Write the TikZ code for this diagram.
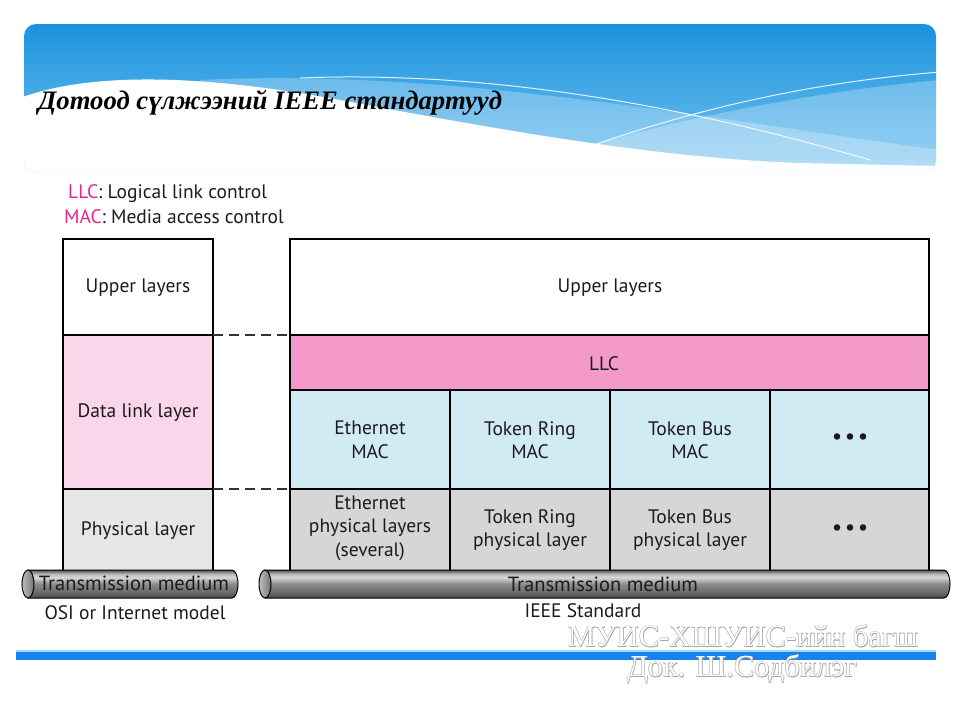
\documentclass[tikz,border=0pt]{standalone}
\usepackage{fontspec}
\setmainfont{PT Sans}
\newfontfamily\serifff{Liberation Serif}
\usetikzlibrary{calc}
\definecolor{magtext}{RGB}{228,38,140}
\definecolor{pinkL}{RGB}{249,214,234}
\definecolor{pinkD}{RGB}{244,154,202}
\definecolor{blueL}{RGB}{208,235,243}
\definecolor{grayL}{RGB}{230,230,230}
\definecolor{grayD}{RGB}{214,214,214}
\definecolor{cylA}{RGB}{70,70,70}
\definecolor{cylB}{RGB}{100,100,100}
\definecolor{cylC}{RGB}{140,140,140}
\definecolor{cylD}{RGB}{215,215,215}
\definecolor{cylE}{RGB}{185,185,185}
\definecolor{cylF}{RGB}{80,80,80}
\definecolor{banTop}{RGB}{24,146,222}
\definecolor{banBot}{RGB}{120,196,240}
\definecolor{barBlue}{RGB}{26,130,235}
\definecolor{ink}{RGB}{30,25,30}
\pgfdeclareverticalshading{cyl}{100bp}{color(0bp)=(cylA); color(25bp)=(cylA); color(33bp)=(cylB); color(50bp)=(cylC); color(62bp)=(cylD); color(68bp)=(cylE); color(75bp)=(cylF); color(100bp)=(cylF)}
\tikzset{
  cell/.style={draw=black, line width=1.2pt},
  lbl/.style={font=\fontsize{19.5}{23.5}\selectfont, text=ink, align=center, inner sep=0pt},
  tmlbl/.style={lbl, font=\fontsize{20.5}{23}\selectfont},
  dashline/.style={line width=1.3pt, dash pattern=on 10pt off 6pt, black!80},
  tube/.style={shading=cyl, draw=black, line width=1pt},
  tubeend/.style={left color=black!25, right color=black!55, draw=black, line width=1pt},
  wm/.style={font=\serifff\fontsize{30.5}{33}\selectfont, inner sep=0pt},
}
\begin{document}
\begin{tikzpicture}[x=1pt,y=-1pt]
\useasboundingbox (0,0) rectangle (960,720);
% ---------- banner ----------
\begin{scope}
  \clip[rounded corners=12pt] (24,24) rectangle (936,172);
  \shade[top color=banTop, bottom color=banBot] (20,20) rectangle (940,175);
  \fill[white, opacity=0.25] (200,80) .. controls (450,68) and (700,118) .. (940,150) -- (940,175) -- (200,175) -- cycle;
  \fill[white, opacity=0.25] (540,160) .. controls (700,110) and (850,88) .. (940,80) -- (940,175) -- (540,175) -- cycle;
  \fill[white] (20,98) .. controls (90,72) and (200,74) .. (340,100) .. controls (480,126) and (650,158) .. (800,163) -- (940,166) -- (940,175) -- (20,175) -- cycle;
  \draw[white, line width=1pt, opacity=0.85] (300,78) .. controls (500,70) and (700,110) .. (870,160);
  \draw[white, line width=1pt, opacity=0.85] (585,148) .. controls (720,100) and (840,80) .. (940,72);
\end{scope}
\node[anchor=west, inner sep=0pt, font=\serifff\bfseries\itshape\fontsize{26.7}{30}\selectfont] (title) at (38,103) {Дотоод сүлжээний IEEE стандартууд};
% ---------- legend ----------
\node[anchor=west, inner sep=0pt, text=ink, font=\fontsize{19.5}{22}\selectfont] (leg1) at (68,194) {\textcolor{magtext}{LLC}: Logical link control};
\node[anchor=west, inner sep=0pt, text=ink, font=\fontsize{19.5}{22}\selectfont] (leg2) at (64,217) {\textcolor{magtext}{MAC}: Media access control};
% ---------- left column ----------
\fill[white] (63,239) rectangle (213,335);
\fill[pinkL] (63,335) rectangle (213,489);
\fill[grayL] (63,489) rectangle (213,572);
\draw[cell] (63,572) -- (63,239) -- (213,239) -- (213,572);
\draw[cell] (63,335) -- (213,335);
\draw[cell] (63,489) -- (213,489);
\node[lbl] (lup) at (138,287.5) {Upper layers};
\node[lbl] (ldl) at (138,412.5) {Data link layer};
\node[lbl] (lph) at (138,530.5) {Physical layer};
% ---------- right block ----------
\fill[white] (290,239) rectangle (929,335);
\fill[pinkD] (290,335) rectangle (929,390);
\fill[blueL] (290,390) rectangle (929,489);
\fill[grayD] (290,489) rectangle (929,572);
\draw[cell] (290,572) -- (290,239) -- (929,239) -- (929,572);
\draw[cell] (290,335) -- (929,335);
\draw[cell] (290,390) -- (929,390);
\draw[cell] (290,489) -- (929,489);
\foreach \xx in {450,610,770} \draw[cell] (\xx,390) -- (\xx,572);
\node[lbl] (rup) at (610,287.5) {Upper layers};
\node[lbl] (llc) at (604,363.5) {LLC};
\node[lbl] (emac) at (370,440) {Ethernet\\MAC};
\node[lbl] (trmac) at (530,440) {Token Ring\\MAC};
\node[lbl] (tbmac) at (690,440) {Token Bus\\MAC};
\node[lbl, font=\fontsize{21}{22}\selectfont\bfseries] (dmac) at (850,439) {•\,•\,•};
\node[lbl] (ephy) at (370,528) {Ethernet\\physical layers\\(several)};
\node[lbl] (trphy) at (530,530) {Token Ring\\physical layer};
\node[lbl] (tbphy) at (690,530) {Token Bus\\physical layer};
\node[lbl, font=\fontsize{21}{22}\selectfont\bfseries] (dphy) at (850,530) {•\,•\,•};
% ---------- dashed connectors ----------
\coordinate (d1a) at (213,335); \coordinate (d1b) at (290,335);
\coordinate (d2a) at (213,489); \coordinate (d2b) at (290,489);
\draw[dashline] (d1a) -- (d1b);
\draw[dashline] (d2a) -- (d2b);
% ---------- transmission media ----------
\path[tube] (28,570) -- (232,570) arc[start angle=-90, end angle=90, x radius=6, y radius=14] -- (28,598) -- cycle;
\path[tubeend] (28,584) ellipse[x radius=6, y radius=14];
\node[tmlbl] (ltm) at (134,583) {Transmission medium};
\path[tube] (265,570) -- (944,570) arc[start angle=-90, end angle=90, x radius=6, y radius=14] -- (265,598) -- cycle;
\path[tubeend] (265,584) ellipse[x radius=6, y radius=14];
\node[tmlbl] (rtm) at (603,584) {Transmission medium};
\node[lbl] (osi) at (135,613) {OSI or Internet model};
\node[lbl] (ieee) at (583,610.5) {IEEE Standard};
% ---------- bottom bar ----------
\fill[cyan!40] (16,650) rectangle (936,652);
\fill[barBlue] (16,652) rectangle (936,660);
% ---------- watermark ----------
\foreach \dx/\dy in {-0.5/0,0.5/0,0/-0.5,0/0.5,0.7/0.7} {
  \node[wm, text=black!35] at ($(743,636)+(\dx,\dy)$) {МУИС-ХШУИС-ийн багш};
  \node[wm, text=black!35] at ($(742,669)+(\dx,\dy)$) {Док. Ш.Содбилэг};
}
\node[wm, text=white] (wm1) at (743,636) {МУИС-ХШУИС-ийн багш};
\node[wm, text=white] (wm2) at (742,669) {Док. Ш.Содбилэг};
\end{tikzpicture}
\end{document}
